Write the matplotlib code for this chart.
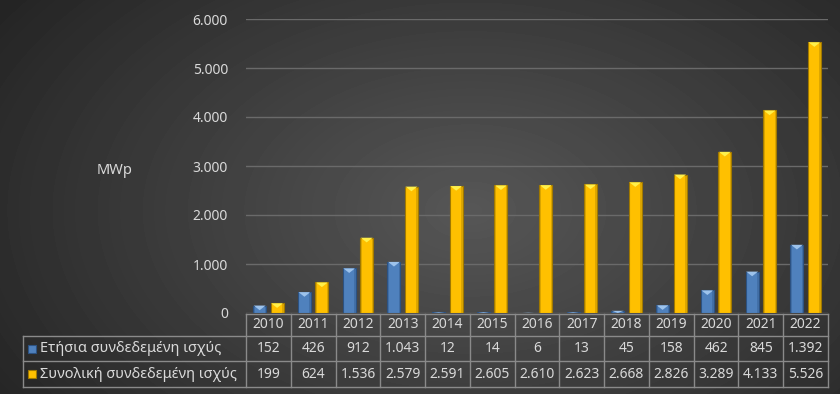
import numpy as np
import matplotlib
matplotlib.use("Agg")
from matplotlib import pyplot as plt
from matplotlib import colors
from matplotlib.patches import Polygon, Rectangle
from matplotlib.transforms import blended_transform_factory

plt.rcParams['font.family'] = ['Noto Sans', 'DejaVu Sans']

years = ['2010', '2011', '2012', '2013', '2014', '2015', '2016',
         '2017', '2018', '2019', '2020', '2021', '2022']
annual = [152, 426, 912, 1043, 12, 14, 6, 13, 45, 158, 462, 845, 1392]
total = [199, 624, 1536, 2579, 2591, 2605, 2610, 2623, 2668, 2826, 3289, 4133, 5526]
series_names = ['Ετήσια συνδεδεμένη ισχύς', 'Συνολική συνδεδεμένη ισχύς']
yticks = [0, 1000, 2000, 3000, 4000, 5000, 6000]

W, H = 840, 394
txt_col = '#d9d9d9'
grid_col = '#6a6a6a'
line_col = '#8a8a8a'
blue = '#4f81bd'
blue_dark = '#2c5282'
blue_light = '#9dc3ec'
yellow = '#ffc000'
yellow_dark = '#a07800'
yellow_light = '#fff04a'


def fmt(v):
    return f"{v:,}".replace(',', '.')


fig = plt.figure(figsize=(W / 100, H / 100), dpi=100)

# radial gradient background
bg = fig.add_axes([0, 0, 1, 1])
yy, xx = np.mgrid[0:H, 0:W]
r = np.sqrt(((xx - 470) / 520.0) ** 2 + ((yy - 210) / 330.0) ** 2)
shade = np.clip(0.34 - 0.18 * r, 0.14, 0.36)
bg.imshow(shade, cmap='gray', vmin=0, vmax=1, aspect='auto',
          extent=[0, W, H, 0])
bg.set_axis_off()

ax = fig.add_axes([246 / W, 81 / H, 582 / W, 294 / H])
ax.patch.set_alpha(0)
ax.set_xlim(-0.5, len(years) - 0.5)
ax.set_ylim(0, 6000)
ax.set_yticks(yticks)
ax.set_yticklabels([fmt(v) for v in yticks], color=txt_col, fontsize=10)
ax.tick_params(axis='y', length=0, pad=13)
ax.set_xticks([])
for s in ax.spines.values():
    s.set_visible(False)
ax.yaxis.grid(True, color=grid_col, linewidth=1)
ax.set_axisbelow(True)

x = np.arange(len(years))
bw = 0.29
off = 0.195


def draw_bars(xs, vals, face, edge, light):
    bars = ax.bar(xs, vals, width=bw, color=face, edgecolor=edge,
                  linewidth=0.8, zorder=3)
    for b in bars:
        h = b.get_height()
        x0 = b.get_x()
        w = b.get_width()
        # small bevel triangle at the top
        th = min(h, 95)
        tri = Polygon([[x0 + 0.04 * w, h], [x0 + 0.96 * w, h],
                       [x0 + w / 2, h - th]], closed=True,
                      facecolor=light, edgecolor='none', zorder=4)
        ax.add_patch(tri)
        # darker side strips for a rounded look
        ax.add_patch(Rectangle((x0, 0), w * 0.12, h, facecolor=edge,
                               alpha=0.35, edgecolor='none', zorder=4))
        ax.add_patch(Rectangle((x0 + w * 0.88, 0), w * 0.12, h,
                               facecolor=edge, alpha=0.35,
                               edgecolor='none', zorder=4))


draw_bars(x - off, annual, blue, blue_dark, blue_light)
draw_bars(x + off, total, yellow, yellow_dark, yellow_light)

fig.text(115 / W, 1 - 171 / H, 'MWp', color=txt_col, fontsize=10.5,
         ha='center', va='center')

# data table below the plot
tr = blended_transform_factory(ax.transData, fig.transFigure)
ftr = fig.transFigure
rows_px = [314, 336, 361, 387]
rows = [1 - p / H for p in rows_px]
left_lab = 23 / W
x_edges = np.arange(len(years) + 1) - 0.5

# horizontal lines
fig.add_artist(plt.Line2D([246 / W, 828 / W], [rows[0], rows[0]],
                          color=line_col, lw=1))
for yv in rows[1:]:
    fig.add_artist(plt.Line2D([left_lab, 828 / W], [yv, yv],
                              color=line_col, lw=1))
# vertical lines
for xe in x_edges:
    ax.plot([xe, xe], [rows[0], rows[3]], transform=tr, color=line_col,
            lw=1, clip_on=False)
fig.add_artist(plt.Line2D([left_lab, left_lab], [rows[1], rows[3]],
                          color=line_col, lw=1))

for i, yr in enumerate(years):
    ax.text(x[i], (rows[0] + rows[1]) / 2, yr, transform=tr, ha='center',
            va='center', color=txt_col, fontsize=10, clip_on=False)
    ax.text(x[i], (rows[1] + rows[2]) / 2, fmt(annual[i]), transform=tr,
            ha='center', va='center', color=txt_col, fontsize=10,
            clip_on=False)
    ax.text(x[i], (rows[2] + rows[3]) / 2, fmt(total[i]), transform=tr,
            ha='center', va='center', color=txt_col, fontsize=10,
            clip_on=False)

for k, (name, fc, ec) in enumerate(zip(series_names, [blue, yellow],
                                       [blue_dark, yellow_dark])):
    yc = (rows[k + 1] + rows[k + 2]) / 2
    fig.add_artist(Rectangle((28 / W, yc - 4 / H), 8 / W, 8 / H,
                             facecolor=fc, edgecolor=ec, lw=0.8,
                             transform=ftr))
    fig.text(40 / W, yc, name, color=txt_col, fontsize=10.5,
             ha='left', va='center')

fig.savefig('out.png', dpi=100)
